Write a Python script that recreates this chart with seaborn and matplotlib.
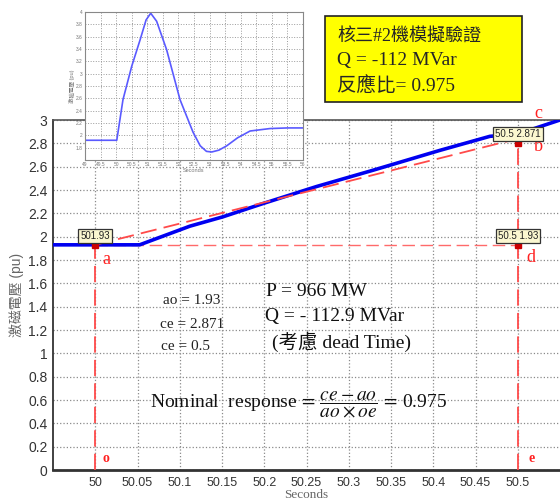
import seaborn as sns
import matplotlib.pyplot as plt
from matplotlib.patches import Rectangle

# zoomed trace: excitation voltage (pu) vs time
blue_t = [49.95, 50.0, 50.0525, 50.112, 50.151, 50.199, 50.262, 50.329, 50.408, 50.467, 50.5, 50.55]
blue_v = [1.93, 1.93, 1.93, 2.09, 2.17, 2.285, 2.43, 2.57, 2.74, 2.86, 2.88, 3.0]

# dashed reference line a -> b
ref_t = [50.0, 50.5]
ref_v = [1.93, 2.84]

ao = 1.93
t_a = 50.0
t_e = 50.5
tip_b = 2.80

# data tips
tip_x = [50.0, 50.5, 50.5]
tip_y = [1.93, 1.93, 2.80]
tip_txt = ["501.93", "50.5 1.93", "50.5 2.871"]

x_ticks = [50, 50.05, 50.1, 50.15, 50.2, 50.25, 50.3, 50.35, 50.4, 50.45, 50.5]
y_ticks = [0, 0.2, 0.4, 0.6, 0.8, 1, 1.2, 1.4, 1.6, 1.8, 2, 2.2, 2.4, 2.6, 2.8, 3]

# inset: whole transient
inset_t = [49, 49.5, 50.02, 50.22, 50.5, 50.77, 50.96, 51.11, 51.3, 51.62, 52.05, 52.47,
           52.7, 52.9, 53.07, 53.3, 53.55, 53.9, 54.3, 54.94, 55.5, 56]
inset_v = [1.92, 1.92, 1.92, 2.58, 3.12, 3.55, 3.87, 3.98, 3.85, 3.39, 2.58, 2.05,
           1.83, 1.74, 1.73, 1.76, 1.83, 1.96, 2.07, 2.11, 2.12, 2.12]
inset_xticks = [49, 49.5, 50, 50.5, 51, 51.5, 52, 52.5, 53, 53.5, 54, 54.5, 55, 55.5, 56]
inset_yticks = [1.8, 2, 2.2, 2.4, 2.6, 2.8, 3, 3.2, 3.4, 3.6, 3.8, 4]

sns.set_style("whitegrid")
plt.rcParams['font.family'] = ['Liberation Sans', 'Noto Sans CJK TC']
plt.rcParams['mathtext.fontset'] = 'stix'
serif = ['Liberation Serif', 'Noto Sans CJK TC']

fig = plt.figure(figsize=(5.6, 5.03), dpi=100)
W, H = 560, 503

def fx(px):
    return px / W

def fy(py):
    return 1 - py / H

ax = fig.add_axes([fx(53), fy(470), 507 / W, 350 / H])
ax.set_facecolor('white')
ax.grid(True, linestyle=':', color='#8a8a8a', linewidth=0.9)

sns.lineplot(x=blue_t, y=blue_v, ax=ax, color='#0000f0', linewidth=2.6, zorder=4)
ax.plot(ref_t, ref_v, color='#ff4a4a', linewidth=1.3, dashes=(9, 4), zorder=5)
ax.plot([t_a, t_e], [ao, ao], color='#ff6a6a', linewidth=1.0, dashes=(9, 4), zorder=3)
ax.plot([t_a, t_a], [0, ao], color='#ff4a4a', linewidth=1.3, dashes=(9, 4), zorder=3)
ax.plot([t_e, t_e], [0, tip_b], color='#ff4a4a', linewidth=1.3, dashes=(9, 4), zorder=3)

ax.set_xlim(49.95, 50.55)
ax.set_ylim(0, 3)
ax.set_xticks(x_ticks)
ax.set_xticklabels(['%g' % v for v in x_ticks])
ax.set_yticks(y_ticks)
ax.set_yticklabels(['%g' % v for v in y_ticks])
ax.tick_params(axis='x', labelsize=9, colors='#333333', direction='in', length=3, pad=5)
ax.tick_params(axis='y', labelsize=10, colors='#333333', direction='in', length=4, pad=4)
for s in ['left', 'bottom']:
    ax.spines[s].set_color('#333333')
ax.spines['bottom'].set_linewidth(2.0)
ax.spines['left'].set_linewidth(1.3)
ax.spines['top'].set_color('#555555')
ax.spines['top'].set_linewidth(1.2)
ax.spines['right'].set_visible(False)

ax.set_xlabel('Seconds', family=serif, fontsize=9.5, color='#666666', labelpad=0)
ax.set_ylabel('激磁電壓 (pu)', fontsize=10, color='#666666', labelpad=3)

# data tips
for x, y, t in zip(tip_x, tip_y, tip_txt):
    ax.plot([x], [y], marker='s', markersize=4.5, color='#cc0000', zorder=7, clip_on=False)
    ax.annotate(t, xy=(x, y), xytext=(0, 3), textcoords='offset points', ha='center', va='bottom',
                fontsize=7, color='#222222', zorder=8,
                bbox=dict(boxstyle='square,pad=0.2', fc='#fbf7d0', ec='#333333', lw=0.9))

# point letters
red = '#ff2020'
ax.text(50.013, 1.80, 'a', color=red, fontsize=13, family=serif, ha='center', va='center')
ax.text(50.524, 2.77, 'b', color=red, fontsize=13, family=serif, ha='center', va='center')
ax.text(50.524, 3.06, 'c', color=red, fontsize=13, family=serif, ha='center', va='center', clip_on=False)
ax.text(50.515, 1.82, 'd', color=red, fontsize=13, family=serif, ha='center', va='center')
ax.text(50.013, 0.095, 'o', color=red, fontsize=10, family=serif, ha='center', va='center', weight='bold')
ax.text(50.516, 0.095, 'e', color=red, fontsize=10, family=serif, ha='center', va='center', weight='bold')

# annotation texts
fig.text(fx(163), fy(300), 'ao = 1.93', family=serif, fontsize=11, va='center', color='#222222')
fig.text(fx(160), fy(324), 'ce = 2.871', family=serif, fontsize=11, va='center', color='#222222')
fig.text(fx(161), fy(347), 'ce = 0.5', family=serif, fontsize=11, va='center', color='#222222')
fig.text(fx(266), fy(292), 'P = 966 MW', family=serif, fontsize=14, va='center', color='#111111')
fig.text(fx(265), fy(317), 'Q = - 112.9 MVar', family=serif, fontsize=14, va='center', color='#111111')
fig.text(fx(272), fy(342), '(考慮 dead Time)', family=serif, fontsize=14, va='center', color='#111111')
fig.text(fx(150), fy(405), r'Nominal  response$\,=\,\dfrac{ce-ao}{ao\times oe}\,=\,$0.975',
         family=serif, fontsize=14, va='center', color='#111111')

# yellow box
fig.patches.append(Rectangle((fx(325), fy(102)), 197 / W, 86 / H, transform=fig.transFigure,
                             facecolor='#ffff00', edgecolor='#222222', linewidth=1.2, zorder=10))
fig.text(fx(337), fy(36), '核三#2機模擬驗證', family=serif, fontsize=13, va='center', zorder=11)
fig.text(fx(337), fy(61), 'Q = -112 MVar', family=serif, fontsize=14, va='center', zorder=11)
fig.text(fx(337), fy(86), '反應比= 0.975', family=serif, fontsize=14, va='center', zorder=11)

# inset
ins = fig.add_axes([fx(85), fy(160), 218 / W, 148 / H])
ins.set_facecolor('white')
ins.grid(True, linestyle=':', color='#9a9a9a', linewidth=0.7)
sns.lineplot(x=inset_t, y=inset_v, ax=ins, color='#5a5aff', linewidth=1.2)
ins.set_xlim(49, 56)
ins.set_ylim(1.6, 4)
ins.set_xticks(inset_xticks)
ins.set_xticklabels(['%g' % v for v in inset_xticks])
ins.set_yticks(inset_yticks)
ins.set_yticklabels(['%g' % v for v in inset_yticks])
ins.tick_params(labelsize=3.5, colors='#777777', length=1.5, pad=1.5, direction='in')
for s in ins.spines.values():
    s.set_color('#888888')
    s.set_linewidth(0.8)
ins.set_xlabel('Seconds', fontsize=4, color='#777777', labelpad=1)
ins.set_ylabel('激磁電壓 (pu)', fontsize=4, color='#777777', labelpad=1)

fig.savefig('out.png', dpi=100)
